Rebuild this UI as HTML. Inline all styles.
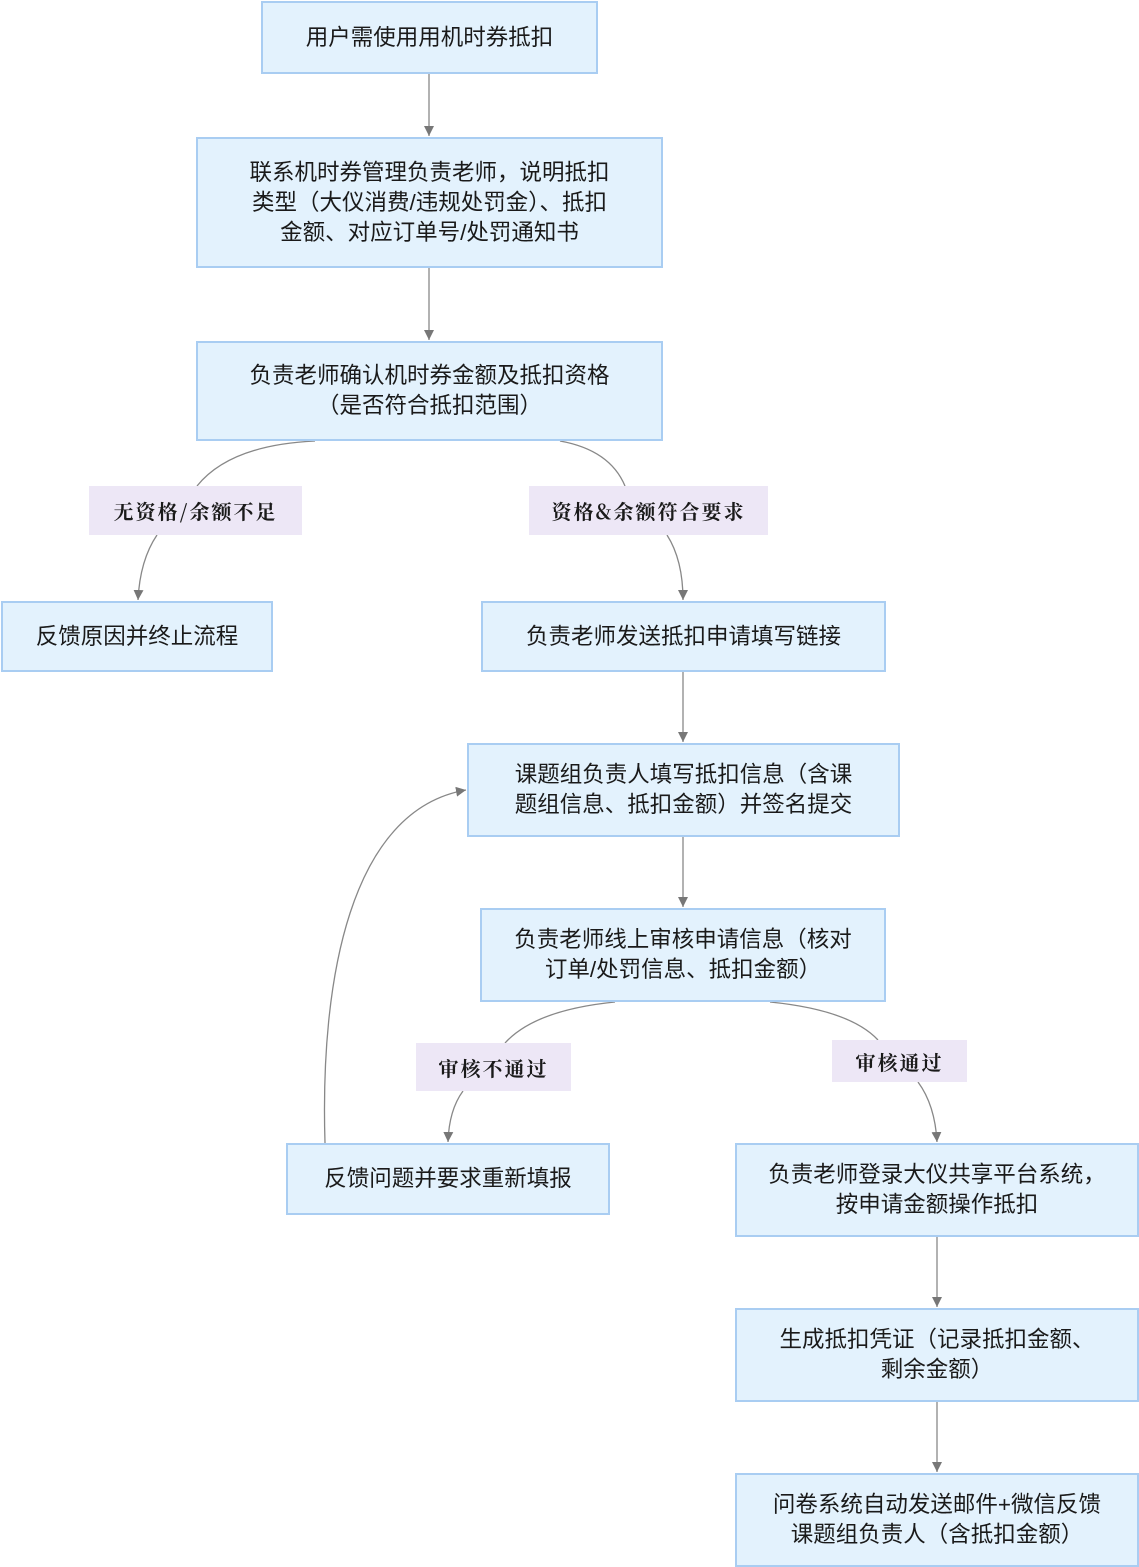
<!DOCTYPE html>
<html><head><meta charset="utf-8"><style>
body{margin:0;width:1139px;height:1567px;background:#fff;position:relative;overflow:hidden;font-family:"Liberation Sans","Noto Sans CJK SC",sans-serif;}
.b{position:absolute;box-sizing:border-box;background:#e3f2fd;border:2px solid #a9cdf2;display:flex;align-items:center;justify-content:center;text-align:center;font-size:22.5px;line-height:30px;color:#1a1a1a;}
.l{position:absolute;box-sizing:border-box;background:#ede7f6;display:flex;align-items:center;justify-content:center;font-family:"Noto Serif CJK SC",serif;font-size:20px;font-weight:bold;color:#1a1a1a;letter-spacing:2px;}
svg{position:absolute;left:0;top:0;}
</style></head><body>
<svg width="1139" height="1567">
<defs>
<marker id="r" markerWidth="12" markerHeight="12" refX="10" refY="5" orient="auto" markerUnits="userSpaceOnUse"><path d="M0,0 L10,5 L0,10 z" fill="#777"/></marker></defs>
<g stroke="#888" stroke-width="1.3" fill="none" marker-end="url(#r)">
<path d="M429,74 V136"/>
<path d="M429,268 V340"/>
<path d="M315,441 Q230,445 197,486" marker-end="none"/>
<path d="M157,535 Q140,560 138,600"/>
<path d="M560,441 Q610,450 625,486" marker-end="none"/>
<path d="M667,535 Q683,560 683,600"/>
<path d="M683,672 V742"/>
<path d="M683,837 V907"/>
<path d="M615,1002 Q535,1010 505,1043" marker-end="none"/>
<path d="M463,1091 Q449,1110 448,1142"/>
<path d="M770,1002 Q850,1010 878,1040" marker-end="none"/>
<path d="M918,1082 Q935,1105 937,1142"/>
<path d="M937,1237 V1307"/>
<path d="M937,1402 V1472"/>
<path d="M325,1143 C320,980 350,810 466,790"/>
</g></svg>
<div class="b" style="left:261px;top:1px;width:337px;height:73px">用户需使用用机时券抵扣</div>
<div class="b" style="left:196px;top:137px;width:467px;height:131px">联系机时券管理负责老师，说明抵扣<br>类型（大仪消费/违规处罚金）、抵扣<br>金额、对应订单号/处罚通知书</div>
<div class="b" style="left:196px;top:341px;width:467px;height:100px">负责老师确认机时券金额及抵扣资格<br>（是否符合抵扣范围）</div>
<div class="b" style="left:1px;top:601px;width:272px;height:71px">反馈原因并终止流程</div>
<div class="b" style="left:481px;top:601px;width:405px;height:71px">负责老师发送抵扣申请填写链接</div>
<div class="b" style="left:467px;top:743px;width:433px;height:94px">课题组负责人填写抵扣信息（含课<br>题组信息、抵扣金额）并签名提交</div>
<div class="b" style="left:480px;top:908px;width:406px;height:94px">负责老师线上审核申请信息（核对<br>订单/处罚信息、抵扣金额）</div>
<div class="b" style="left:286px;top:1143px;width:324px;height:72px">反馈问题并要求重新填报</div>
<div class="b" style="left:735px;top:1143px;width:404px;height:94px">负责老师登录大仪共享平台系统，<br>按申请金额操作抵扣</div>
<div class="b" style="left:735px;top:1308px;width:404px;height:94px">生成抵扣凭证（记录抵扣金额、<br>剩余金额）</div>
<div class="b" style="left:735px;top:1473px;width:404px;height:94px">问卷系统自动发送邮件+微信反馈<br>课题组负责人（含抵扣金额）</div>
<div class="l" style="left:89px;top:486px;width:213px;height:49px">无资格/余额不足</div>
<div class="l" style="left:529px;top:486px;width:239px;height:49px">资格&amp;余额符合要求</div>
<div class="l" style="left:416px;top:1043px;width:155px;height:48px">审核不通过</div>
<div class="l" style="left:832px;top:1040px;width:135px;height:42px">审核通过</div>
</body></html>
